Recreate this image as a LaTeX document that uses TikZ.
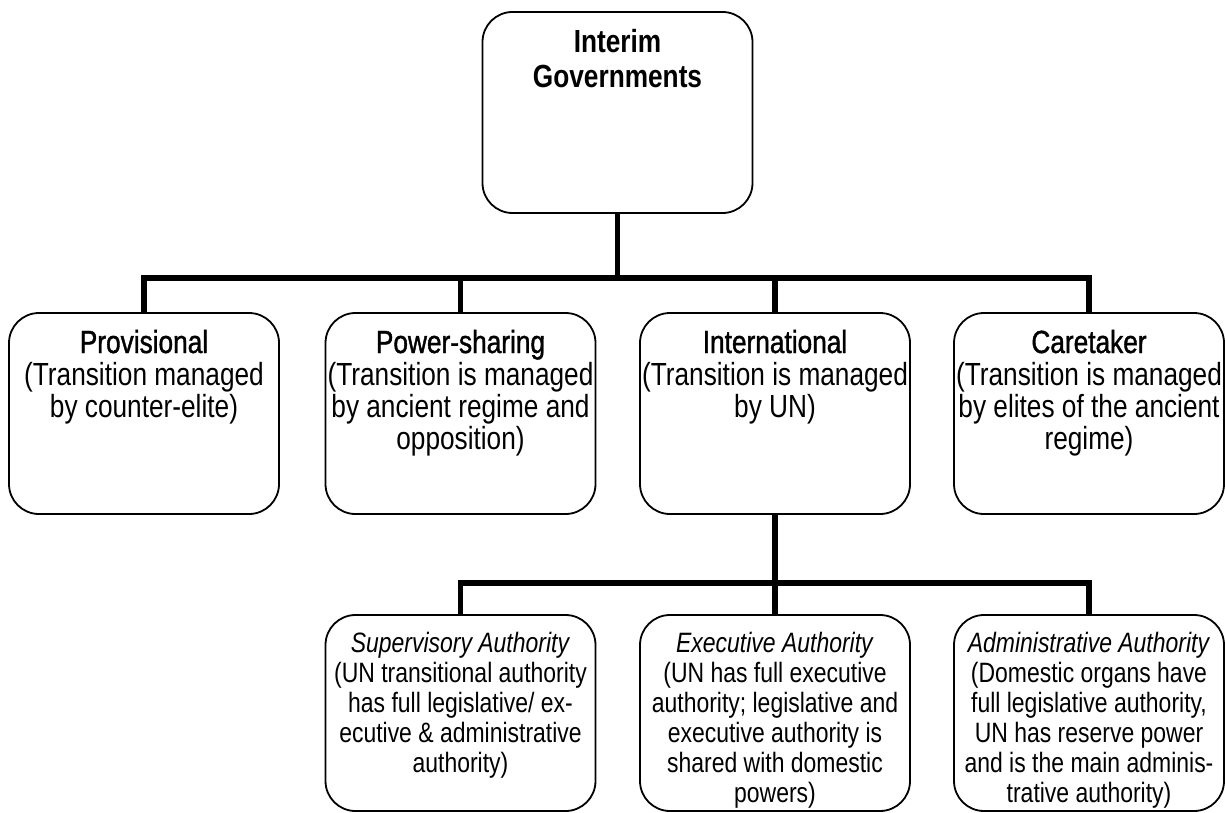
\documentclass[tikz,border=0pt]{standalone}
\usepackage{fontspec}
\setmainfont[FakeStretch=0.82]{Liberation Sans}
\newfontfamily\headfont[FakeStretch=0.82,FakeBold=1.2]{Liberation Sans}
\usepackage{tikz}
\usetikzlibrary{positioning}
% box contents: height, first baseline, text
\newcommand{\boxbody}[3]{\parbox[c][#1][t]{268pt}{\centering\rule{0pt}{#2}#3}}

\begin{document}
\begin{tikzpicture}[
    x=1pt, y=-1pt, % pixel-like coordinates
    every node/.style={inner sep=0pt},
    roundbox/.style={draw, line width=1.8pt, rounded corners=30pt, minimum width=270pt},
    govbox/.style={roundbox, font=\fontsize{32}{35}\selectfont},
    typebox/.style={roundbox, font=\fontsize{32}{32}\selectfont},
    authbox/.style={roundbox, font=\fontsize{28}{30}\selectfont},
    link/.style={line width=5.5pt}
]
    \useasboundingbox (0,0) rectangle (1225,813);

    % 1. Top node
    \node[govbox] (gov) at (617.5,112.5)
        {\boxbody{201pt}{41pt}{\textbf{Interim}\\\textbf{Governments}}};

    % 2. Kinds of interim government
    \node[typebox] (prov) at (144,413.5)
        {\boxbody{201pt}{40pt}{{\headfont Provisional}\\(Transition managed\\by counter-elite)}};
    \node[typebox] (share) at (460.5,413.5)
        {\boxbody{201pt}{40pt}{{\headfont Power-sharing}\\(Transition is managed\\by ancient regime and\\opposition)}};
    \node[typebox] (intl) at (775,413.5)
        {\boxbody{201pt}{40pt}{{\headfont International}\\(Transition is managed\\by UN)}};
    \node[typebox] (care) at (1089,413.5)
        {\boxbody{201pt}{40pt}{{\headfont Caretaker}\\(Transition is managed\\by elites of the ancient\\regime)}};

    % 3. Kinds of UN authority
    \node[authbox] (super) at (460.5,713)
        {\boxbody{196pt}{37pt}{\textit{Supervisory Authority}\\(UN transitional authority\\has full legislative/ ex-\\ecutive \& administrative\\authority)}};
    \node[authbox] (exec) at (775,713)
        {\boxbody{196pt}{37pt}{\textit{Executive Authority}\\(UN has full executive\\authority; legislative and\\executive authority is\\shared with domestic\\powers)}};
    \node[authbox] (admin) at (1089,713)
        {\boxbody{196pt}{37pt}{\textit{Administrative Authority}\\(Domestic organs have\\full legislative authority,\\UN has reserve power\\and is the main adminis-\\trative authority)}};

    % 4. Tree lines
    \coordinate (bus) at (617.5,278);
    \draw[link] (gov.south) -- (bus);
    \foreach \n in {prov,share,intl,care}
        \draw[link] (\n.north) |- (bus);

    \coordinate (subbus) at (775,583);
    \draw[link] (intl.south) -- (subbus);
    \foreach \n in {super,exec,admin}
        \draw[link] (\n.north) |- (subbus);
\end{tikzpicture}
\end{document}
